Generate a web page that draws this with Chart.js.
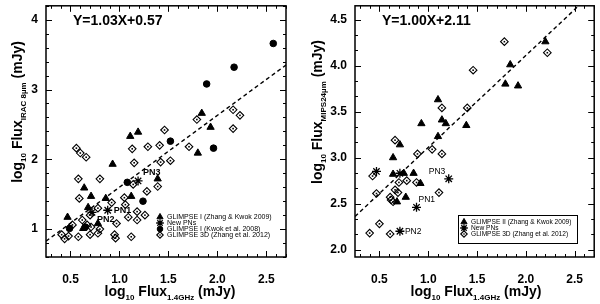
<!DOCTYPE html>
<html>
<head>
<meta charset="utf-8">
<script src="https://cdn.jsdelivr.net/npm/chart.js@4"></script>
<style>
html, body { margin: 0; padding: 0; background: #fff; }
#wrap { display: flex; width: 600px; height: 304px; }
.box { width: 300px; height: 304px; }
</style>
</head>
<body>
<div id="wrap">
  <div class="box"><canvas id="irac" width="300" height="304"></canvas></div>
  <div class="box"><canvas id="mips" width="300" height="304"></canvas></div>
</div>
<script>
// ---- tick labels ----
var xTickVals = [0.5, 1.0, 1.5, 2.0, 2.5];
var iracTickVals = [1, 2, 3, 4];
var mipsTickVals = [2.0, 2.5, 3.0, 3.5, 4.0, 4.5];

// ---- left panel: IRAC 8um vs 1.4GHz ----
var iracG1X = [1.84, 1.93, 1.11, 1.19, 1.80, 0.93, 0.64, 0.71, 1.39, 1.12, 0.86, 0.68, 0.47, 0.78, 0.63];
var iracG1Y = [2.66, 2.46, 2.33, 2.39, 2.09, 1.93, 1.59, 1.47, 1.72, 1.47, 1.44, 1.31, 1.17, 1.08, 1.01];
var iracPNX = [1.19, 0.88, 0.72];
var iracPNY = [1.69, 1.27, 1.24];
var iracPNNames = ["PN3", "PN1", "PN2"];
var iracKwokX = [2.57, 2.17, 1.89, 1.52, 1.96, 1.08, 1.24, 0.65, 0.49];
var iracKwokY = [3.66, 3.32, 3.08, 2.26, 2.16, 1.67, 1.40, 1.03, 1.01];
var irac3DX = [1.79, 2.16, 2.23, 2.16, 1.46, 0.56, 1.13, 1.29, 1.41, 1.71, 0.60, 0.66, 1.15, 1.42, 1.52,
               0.58, 0.80, 0.59, 1.39, 1.14, 1.28, 1.05, 0.92, 1.06, 0.78, 1.18, 1.09, 1.18, 1.26, 0.97,
               0.70, 0.62, 0.67, 0.71, 0.52, 0.80, 0.41, 0.44, 0.48, 0.58, 0.70, 0.78, 0.95, 0.96, 1.12];
var irac3DY = [2.57, 2.71, 2.63, 2.44, 2.42, 2.16, 2.15, 2.18, 2.20, 2.18, 2.09, 2.03, 1.95, 1.96, 1.98,
               1.72, 1.72, 1.44, 1.61, 1.64, 1.54, 1.45, 1.38, 1.35, 1.30, 1.25, 1.17, 1.13, 1.20, 1.08,
               1.20, 1.13, 1.06, 1.03, 1.06, 1.00, 0.92, 0.86, 0.90, 0.89, 0.92, 0.94, 0.92, 0.87, 0.89];
var iracFit = [1.03, 0.57];
var iracLegend = ["GLIMPSE I (Zhang & Kwok 2009)", "New PNs", "GLIMPSE I (Kwok et al. 2008)", "GLIMPSE 3D (Zhang et al. 2012)"];

// ---- right panel: MIPS 24um vs 1.4GHz ----
var mipsG2X = [2.20, 1.84, 1.79, 1.92, 1.10, 1.14, 1.18, 0.93, 1.39, 1.10, 0.71, 0.64, 0.64, 0.75, 0.85, 0.92, 0.77, 0.68];
var mipsG2Y = [4.26, 4.01, 3.80, 3.78, 3.63, 3.41, 3.37, 3.37, 3.35, 3.23, 3.14, 3.00, 2.82, 2.83, 2.83, 2.72, 2.57, 2.52];
var mipsPNX = [0.47, 0.71, 1.21, 0.88, 0.71];
var mipsPNY = [2.85, 2.83, 2.77, 2.46, 2.20];
var mipsPNNames = ["", "", "PN3", "PN1", "PN2"];
var mips3DX = [1.78, 2.22, 1.46, 1.14, 1.40, 0.66, 1.04, 0.89, 1.14, 0.43, 0.70, 0.78, 0.88, 0.47, 0.66,
               0.69, 0.61, 0.62, 0.64, 1.11, 0.40, 0.50, 0.61];
var mips3DY = [4.26, 4.14, 3.95, 3.54, 3.54, 3.19, 3.09, 3.04, 3.04, 2.80, 2.73, 2.75, 2.73, 2.61, 2.65,
               2.62, 2.57, 2.54, 2.52, 2.62, 2.18, 2.28, 2.17];
var mipsFit = [1.00, 2.11];
var mipsLegend = ["GLIMPSE II (Zhang & Kwok 2009)", "New PNs", "GLIMPSE 3D (Zhang et al. 2012)"];

var FONT = "Liberation Sans, Arial, sans-serif";

function pts(xs, ys) { return xs.map(function (x, i) { return { x: x, y: ys[i] }; }); }

var styles = {
  tri:  { pointStyle: "triangle", radius: 4.2, borderWidth: 1, bg: "#000" },
  star: { pointStyle: "star", radius: 4.5, borderWidth: 1.3, bg: "#000" },
  dot:  { pointStyle: "circle", radius: 3.3, borderWidth: 1, bg: "#000" },
  dia:  { pointStyle: "rectRot", radius: 3.8, borderWidth: 1.1, bg: "rgba(255,255,255,0)", centerDot: true }
};

function scatterSet(data, st) {
  return {
    type: "scatter", data: data, pointStyle: st.pointStyle, pointRadius: st.radius,
    pointBorderWidth: st.borderWidth, pointBackgroundColor: st.bg, pointBorderColor: "#000",
    order: 1, centerDot: !!st.centerDot
  };
}

function fitSet(fit, xr) {
  return {
    type: "line", order: 10,
    data: xr.map(function (x) { return { x: x, y: fit[0] * x + fit[1] }; }),
    borderColor: "#000", borderWidth: 1.4, borderDash: [4, 3], pointRadius: 0, fill: false
  };
}

function drawRich(ctx, parts, x, y, big, small, subDy) {
  var w = 0;
  parts.forEach(function (p) { ctx.font = "bold " + (p[1] ? small : big) + "px " + FONT; w += ctx.measureText(p[0]).width; });
  var cx = x - w / 2;
  ctx.textAlign = "left"; ctx.textBaseline = "alphabetic";
  parts.forEach(function (p) {
    ctx.font = "bold " + (p[1] ? small : big) + "px " + FONT;
    ctx.fillText(p[0], cx, p[1] ? y + subDy : y);
    cx += ctx.measureText(p[0]).width;
  });
}

var decor = {
  id: "decor",
  afterDatasetsDraw: function (chart, args, o) {
    var ctx = chart.ctx, a = chart.chartArea, xs = chart.scales.x, ys = chart.scales.y;
    ctx.save();
    ctx.strokeStyle = "#000"; ctx.fillStyle = "#000";

    // centre dots of the diamond markers
    chart.data.datasets.forEach(function (ds, di) {
      if (!ds.centerDot) return;
      chart.getDatasetMeta(di).data.forEach(function (el) {
        ctx.fillRect(el.x - 0.8, el.y - 0.8, 1.6, 1.6);
      });
    });

    // inward ticks on all four sides
    ctx.lineWidth = 1;
    ctx.beginPath();
    function isMajor(v, m) { return Math.abs(v / m - Math.round(v / m)) < 1e-6; }
    for (var i = Math.ceil(xs.min / o.xMinor - 1e-6); i * o.xMinor <= xs.max + 1e-6; i++) {
      var v = i * o.xMinor, px = Math.round(xs.getPixelForValue(v)) + 0.5, len = isMajor(v, 0.5) ? 6 : 3;
      ctx.moveTo(px, a.bottom); ctx.lineTo(px, a.bottom - len);
      ctx.moveTo(px, a.top); ctx.lineTo(px, a.top + len);
    }
    for (var j = Math.ceil(ys.min / o.yMinor - 1e-6); j * o.yMinor <= ys.max + 1e-6; j++) {
      var w = j * o.yMinor, py = Math.round(ys.getPixelForValue(w)) + 0.5, l2 = isMajor(w, o.yMajor) ? 6 : 3;
      ctx.moveTo(a.left, py); ctx.lineTo(a.left + l2, py);
      ctx.moveTo(a.right, py); ctx.lineTo(a.right - l2, py);
    }
    ctx.stroke();

    // frame
    ctx.lineWidth = 1.5;
    ctx.strokeRect(a.left, a.top, a.right - a.left, a.bottom - a.top);

    // equation
    ctx.font = "bold 14px " + FONT;
    ctx.textAlign = "left"; ctx.textBaseline = "alphabetic";
    ctx.fillText(o.eq, a.left + 27, 25);

    // PN labels
    ctx.font = o.pnFont;
    ctx.textBaseline = "middle";
    o.pnNames.forEach(function (name, k) {
      if (!name) return;
      var off = o.pnOff[k];
      ctx.fillText(name, xs.getPixelForValue(o.pnX[k]) + off[0], ys.getPixelForValue(o.pnY[k]) + off[1]);
    });

    // legend
    if (o.legendBox) {
      ctx.lineWidth = 1;
      ctx.strokeRect(o.legendBox[0] + 0.5, o.legendBox[1] + 0.5, o.legendBox[2], o.legendBox[3]);
    }
    ctx.font = o.legendFont;
    ctx.textBaseline = "middle";
    o.legend.forEach(function (label, k) {
      var st = o.legendStyles[k], ly = o.legendY + k * o.legendGap;
      ctx.lineWidth = st.borderWidth;
      ctx.fillStyle = st.bg;
      Chart.helpers.drawPoint(ctx, { pointStyle: st.pointStyle, radius: st.radius * 0.85, rotation: 0, borderWidth: st.borderWidth }, o.legendX, ly);
      ctx.fillStyle = "#000";
      if (st.centerDot) ctx.fillRect(o.legendX - 0.7, ly - 0.7, 1.4, 1.4);
      ctx.fillText(label, o.legendX + 7, ly + 0.5);
    });

    // axis titles
    drawRich(ctx, o.xTitle, o.xTitleX, 296, 14, 8, 4);
    ctx.translate(22, 112);
    ctx.rotate(-Math.PI / 2);
    drawRich(ctx, o.yTitle, 0, 0, 14, 8, 4);
    ctx.restore();
  }
};

function makeChart(id, cfg) {
  return new Chart(document.getElementById(id), {
    data: { datasets: cfg.datasets },
    options: {
      responsive: false, animation: false,
      layout: { padding: { top: 4, right: cfg.padRight, left: 0, bottom: 0 } },
      plugins: { legend: { display: false }, tooltip: { enabled: false }, decor: cfg.decor },
      scales: {
        x: {
          type: "linear", min: cfg.xr[0], max: cfg.xr[1],
          grid: { display: false, drawTicks: false }, border: { display: false },
          afterBuildTicks: function (s) { s.ticks = xTickVals.map(function (v) { return { value: v }; }); },
          afterFit: function (s) { s.height = 47; s.paddingLeft = 0; s.paddingRight = 0; },
          ticks: { color: "#000", padding: 15, maxRotation: 0, autoSkip: false,
                   font: { family: FONT, weight: "bold", size: 12 },
                   callback: function (v) { return v.toFixed(1); } }
        },
        y: {
          type: "linear", min: cfg.yr[0], max: cfg.yr[1],
          grid: { display: false, drawTicks: false }, border: { display: false },
          afterBuildTicks: function (s) { s.ticks = cfg.yTicks.map(function (v) { return { value: v }; }); },
          afterFit: function (s) { s.width = cfg.leftW; s.paddingTop = 0; s.paddingBottom = 0; },
          ticks: { color: "#000", padding: 8, autoSkip: false,
                   font: { family: FONT, weight: "bold", size: 12 },
                   callback: function (v) { return v.toFixed(cfg.yDec); } }
        }
      }
    },
    plugins: [decor]
  });
}

var xRange = [0.25, 2.7];

makeChart("irac", {
  xr: xRange, yr: [0.6, 4.2], yTicks: iracTickVals, yDec: 0, leftW: 46, padRight: 14,
  datasets: [
    scatterSet(pts(iracG1X, iracG1Y), styles.tri),
    scatterSet(pts(iracPNX, iracPNY), styles.star),
    scatterSet(pts(iracKwokX, iracKwokY), styles.dot),
    scatterSet(pts(irac3DX, irac3DY), styles.dia),
    fitSet(iracFit, xRange)
  ],
  decor: {
    xMinor: 0.1, yMinor: 0.2, yMajor: 1,
    eq: "Y=" + iracFit[0].toFixed(2) + "X+" + iracFit[1].toFixed(2),
    pnNames: iracPNNames, pnX: iracPNX, pnY: iracPNY, pnOff: [[5, -8], [6, 0], [5, 7]],
    pnFont: "bold 9px " + FONT,
    legend: iracLegend, legendStyles: [styles.tri, styles.star, styles.dot, styles.dia],
    legendFont: "7px " + FONT,
    legendX: 160, legendY: 217, legendGap: 6, legendBox: null,
    xTitle: [["log", 0], ["10", 1], [" Flux", 0], ["1.4GHz", 1], [" (mJy)", 0]], xTitleX: 170,
    yTitle: [["log", 0], ["10", 1], [" Flux", 0], ["IRAC 8\u00b5m", 1], [" (mJy)", 0]]
  }
});

makeChart("mips", {
  xr: xRange, yr: [1.92, 4.65], yTicks: mipsTickVals, yDec: 1, leftW: 55, padRight: 4,
  datasets: [
    scatterSet(pts(mipsG2X, mipsG2Y), styles.tri),
    scatterSet(pts(mipsPNX, mipsPNY), styles.star),
    scatterSet(pts(mips3DX, mips3DY), styles.dia),
    fitSet(mipsFit, xRange)
  ],
  decor: {
    xMinor: 0.1, yMinor: 0.5 / 3, yMajor: 0.5,
    eq: "Y=" + mipsFit[0].toFixed(2) + "X+" + mipsFit[1].toFixed(2),
    pnNames: mipsPNNames, pnX: mipsPNX, pnY: mipsPNY, pnOff: [[0, 0], [0, 0], [-20, -7], [2, -8], [5, 0]],
    pnFont: "8.5px " + FONT,
    legend: mipsLegend, legendStyles: [styles.tri, styles.star, styles.dia],
    legendFont: "6.6px " + FONT,
    legendX: 164, legendY: 222, legendGap: 6, legendBox: [158, 215, 119, 28],
    xTitle: [["log", 0], ["10", 1], [" Flux", 0], ["1.4GHz", 1], [" (mJy)", 0]], xTitleX: 176,
    yTitle: [["log", 0], ["10", 1], [" Flux", 0], ["MIPS24\u00b5m", 1], [" (mJy)", 0]]
  }
});
</script>
</body>
</html>
